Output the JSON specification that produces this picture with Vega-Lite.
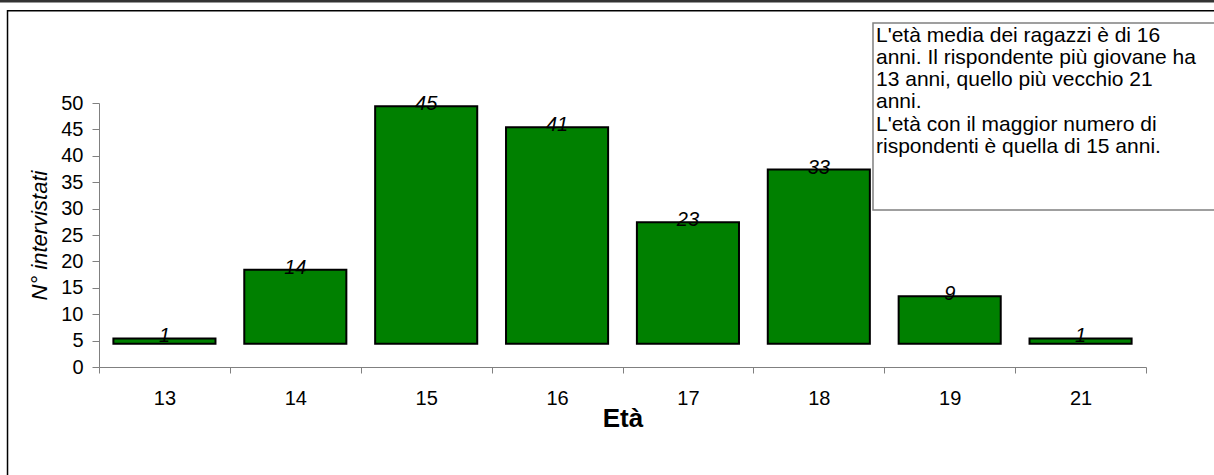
{
  "$schema": "https://vega.github.io/schema/vega-lite/v6.json",
  "width": 1047,
  "height": 264,
  "autosize": {"type": "none"},
  "padding": {"left": 99, "top": 103, "right": 68, "bottom": 108},
  "background": "white",
  "config": {"view": {"stroke": null}, "font": "Liberation Sans"},
  "datasets": {
    "ages": [
      {"eta": "13", "n": 1, "top": 5.4},
      {"eta": "14", "n": 14, "top": 18.4},
      {"eta": "15", "n": 45, "top": 49.4},
      {"eta": "16", "n": 41, "top": 45.4},
      {"eta": "17", "n": 23, "top": 27.4},
      {"eta": "18", "n": 33, "top": 37.4},
      {"eta": "19", "n": 9, "top": 13.4},
      {"eta": "21", "n": 1, "top": 5.4}
    ]
  },
  "resolve": {"scale": {"x": "independent"}, "axis": {"x": "independent", "y": "independent"}},
  "layer": [
    {
      "data": {"values": [{}]},
      "layer": [
        {
          "mark": {"type": "rule", "stroke": "#333333", "strokeWidth": 3},
          "encoding": {
            "x": {"datum": -0.9, "type": "quantitative", "scale": {"domain": [0, 8], "nice": false, "zero": false}, "axis": null},
            "x2": {"datum": 8.7},
            "y": {"datum": 69.3, "type": "quantitative", "scale": {"domain": [0, 50], "nice": false}, "axis": null}
          }
        },
        {
          "mark": {"type": "rect", "fill": null, "stroke": "black", "strokeWidth": 1.5},
          "encoding": {
            "x": {"datum": -0.699, "type": "quantitative", "scale": {"domain": [0, 8], "nice": false, "zero": false}, "axis": null},
            "x2": {"datum": 8.7},
            "y": {"datum": 67.45, "type": "quantitative", "scale": {"domain": [0, 50], "nice": false}, "axis": null},
            "y2": {"datum": -25}
          }
        },
        {
          "mark": {"type": "rect", "fill": "white", "stroke": "#808080", "strokeWidth": 1.5},
          "encoding": {
            "x": {"datum": 5.914, "type": "quantitative", "scale": {"domain": [0, 8], "nice": false, "zero": false}, "axis": null},
            "x2": {"datum": 8.7},
            "y": {"datum": 65.15, "type": "quantitative", "scale": {"domain": [0, 50], "nice": false}, "axis": null},
            "y2": {"datum": 29.73}
          }
        },
        {
          "mark": {"type": "text", "align": "left", "baseline": "alphabetic", "fontSize": 21, "lineHeight": 22.2, "color": "black", "font": "Liberation Sans"},
          "encoding": {
            "x": {"datum": 5.937, "type": "quantitative", "scale": {"domain": [0, 8], "nice": false, "zero": false}, "axis": null},
            "y": {"datum": 61.6, "type": "quantitative", "scale": {"domain": [0, 50], "nice": false}, "axis": null},
            "text": {"value": ["L'età media dei ragazzi è di 16", "anni. Il rispondente più giovane ha", "13 anni, quello più vecchio 21", "anni.", "L'età con il maggior numero di", "rispondenti è quella di 15 anni."]}
          }
        }
      ]
    },
    {
      "data": {"name": "ages"},
      "encoding": {
        "x": {
          "field": "eta", "type": "ordinal",
          "scale": {"paddingInner": 0, "paddingOuter": 0},
          "axis": {
            "title": "Età", "titleFont": "Liberation Sans", "titleFontSize": 26, "titleFontWeight": "bold", "titleColor": "black", "titlePadding": -3,
            "labelAngle": 0, "labelFontSize": 20, "labelColor": "black", "labelPadding": 15, "labelFont": "Liberation Sans",
            "tickBand": "extent", "tickSize": 6, "tickColor": "#808080", "domainColor": "#808080", "grid": false
          }
        },
        "y": {
          "field": "top", "type": "quantitative",
          "scale": {"domain": [0, 50], "nice": false},
          "axis": {
            "title": "N° intervistati", "titleFont": "Liberation Sans", "titleFontSize": 22, "titleFontWeight": "normal", "titleFontStyle": "italic", "titleColor": "black", "titlePadding": 9,
            "values": [0, 5, 10, 15, 20, 25, 30, 35, 40, 45, 50], "labelOverlap": false,
            "labelFontSize": 20, "labelColor": "black", "labelPadding": 9, "labelFont": "Liberation Sans",
            "tickSize": 7, "tickColor": "#808080", "domainColor": "#808080", "grid": false
          }
        }
      },
      "layer": [
        {
          "mark": {"type": "bar", "fill": "#008000", "stroke": "black", "strokeWidth": 2, "width": {"band": 0.78}},
          "encoding": {
            "y2": {"datum": 4.4}
          }
        },
        {
          "mark": {"type": "text", "fontSize": 20, "fontStyle": "italic", "baseline": "middle", "dy": -2, "color": "black", "font": "Liberation Sans"},
          "encoding": {
            "text": {"field": "n", "type": "quantitative"}
          }
        }
      ]
    }
  ]
}
